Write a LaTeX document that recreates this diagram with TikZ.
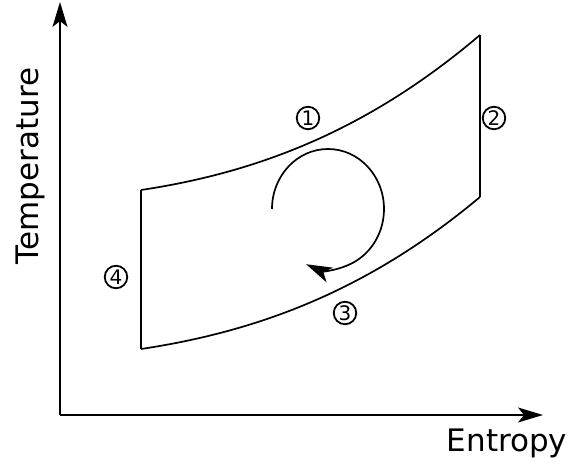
\documentclass[tikz,border=0pt]{standalone}
\usepackage{fontspec}
\setmainfont{DejaVu Sans}
\usetikzlibrary{arrows.meta}
\begin{document}
\begin{tikzpicture}[x=1pt,y=-1pt,
  axis/.style={line width=1.7pt,-{Stealth[length=25pt,width=15pt,inset=6pt]}},
  curve/.style={line width=1.7pt},
  lbl/.style={font=\fontsize{31}{36}\selectfont,inner sep=0pt},
  num/.style={circle,draw,line width=1.8pt,minimum size=22.5pt,inner sep=0pt,font=\fontsize{20}{22}\selectfont}]
\useasboundingbox (0,0) rectangle (571,466);
\coordinate (O) at (60,415);
\coordinate (ytop) at (60,2);
\coordinate (xend) at (543,415);
\draw[axis] (O) -- (ytop);
\draw[axis] (O) -- (xend);
\coordinate (A) at (141,190);
\coordinate (B) at (480,35);
\coordinate (C) at (480,197);
\coordinate (D) at (141,349);
\draw[curve] (A) .. controls (261,172) and (370,128.5) .. (B);
\draw[curve] (B) -- (C);
\draw[curve] (D) .. controls (261,331) and (370,289) .. (C);
\draw[curve] (A) -- (D);
\coordinate (cs) at (272,209);
\draw[line width=1.7pt,-{Stealth[length=26pt,width=16pt,inset=7pt]}] (cs) arc[start angle=180,end angle=-113,x radius=56,y radius=-60];
\node[num] (n1) at (308,118) {1};
\node[num] (n2) at (494,118) {2};
\node[num] (n3) at (345,313) {3};
\node[num] (n4) at (116,277) {4};
\node[lbl,rotate=90] (ty) at (30,166) {Temperature};
\node[lbl] (tx) at (507,443) {Entropy};
\end{tikzpicture}
\end{document}
